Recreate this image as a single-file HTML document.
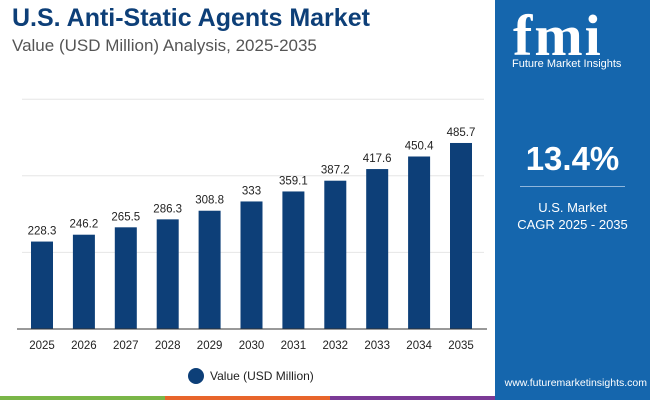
<!DOCTYPE html>
<html><head><meta charset="utf-8"><style>
body{margin:0;width:650px;height:400px;overflow:hidden;background:#fff;font-family:"Liberation Sans",sans-serif;position:relative}
.t1{position:absolute;left:12px;top:4px;font-size:25px;font-weight:bold;color:#0d3f78}
.t2{position:absolute;left:12px;top:36px;font-size:17px;color:#555}
.panel{position:absolute;left:495px;top:0;width:155px;height:400px;background:#1566ad}
.stripe{position:absolute;top:396px;height:4px}
</style></head><body>
<div class="t1">U.S. Anti-Static Agents Market</div>
<div class="t2">Value (USD Million) Analysis, 2025-2035</div>
<svg id="chart" width="495" height="400" style="position:absolute;left:0;top:0"></svg>
<div class="panel">
 <div style="position:absolute;left:18px;top:2px;font-size:58px;font-weight:bold;color:#fff;font-family:'Liberation Serif',serif;letter-spacing:2px">fmi</div>
 <div style="position:absolute;left:17px;top:58px;font-size:11px;color:#fff">Future Market Insights</div>
 <div style="position:absolute;left:0;width:155px;top:140px;text-align:center;font-size:33px;font-weight:bold;color:#fff">13.4%</div>
 <div style="position:absolute;left:25px;width:105px;top:186px;border-top:1px solid #8fb6dc"></div>
 <div style="position:absolute;left:0;width:155px;top:199px;text-align:center;font-size:13px;line-height:17px;color:#fff">U.S. Market<br>CAGR 2025 - 2035</div>
 <div style="position:absolute;left:0;width:152px;top:377px;text-align:right;font-size:10.5px;color:#fff">www.futuremarketinsights.com</div>
</div>
<div class="stripe" style="left:0;width:165px;background:#7ab648"></div>
<div class="stripe" style="left:165px;width:165px;background:#e8652b"></div>
<div class="stripe" style="left:330px;width:165px;background:#7b3a96"></div>
<script>
const categories=["2025","2026","2027","2028","2029","2030","2031","2032","2033","2034","2035"];
const values=[228.3,246.2,265.5,286.3,308.8,333,359.1,387.2,417.6,450.4,485.7];
const labels=["228.3","246.2","265.5","286.3","308.8","333","359.1","387.2","417.6","450.4","485.7"];
const gridTicks=[200,400,600];
const NS="http://www.w3.org/2000/svg";
const svg=document.getElementById('chart');
const base=329,k=0.383,x0=42,step=41.9,bw=22;
const y=v=>base-v*k, x=i=>x0+i*step;
function el(t,a){const e=document.createElementNS(NS,t);for(const n in a)e.setAttribute(n,a[n]);svg.appendChild(e);return e;}
gridTicks.forEach(g=>{const l=el('line',{x1:22,x2:484,y1:y(g),y2:y(g),stroke:'#e6e6e6','stroke-width':1});

});
values.forEach((v,i)=>{
 const r=el('rect',{x:x(i)-bw/2,y:y(v),width:bw,height:v*k,fill:'#0d3f78'});
 
 
 const t=el('text',{x:x(i),y:y(v)-7,'text-anchor':'middle','font-size':11.5,fill:'#222'});t.textContent=labels[i];
 
 
 const c=el('text',{x:x(i),y:349,'text-anchor':'middle','font-size':11.5,fill:'#222'});c.textContent=categories[i];
 
 
});
const ax=el('line',{x1:17,x2:487,y1:base,y2:base,stroke:'#333','stroke-width':1});


const lc=el('circle',{cx:196,cy:376,r:8,fill:'#0d3f78'});


const lt=el('text',{x:210,y:380,'font-size':12,fill:'#222'});lt.textContent='Value (USD Million)';


</script>
</body></html>
